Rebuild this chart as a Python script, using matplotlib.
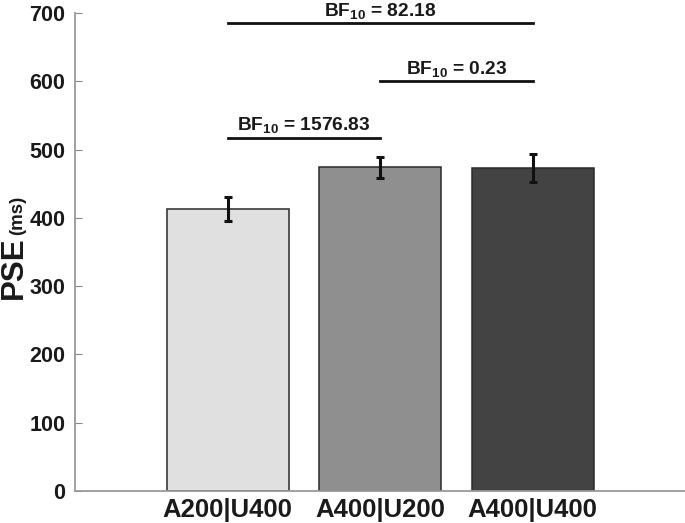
import matplotlib
matplotlib.use("Agg")
import matplotlib.pyplot as plt
import numpy as np

# ── Data ─────────────────────────────────────────────────────────────
CONDITIONS = ["A200|U400", "A400|U200", "A400|U400"]
PSE_MEAN   = [413, 474, 473]
PSE_ERR    = [18, 15, 20]
BAR_COLORS = ["#e0e0e0", "#8f8f8f", "#434343"]

# pairwise comparisons: (left bar, right bar, height, BF10)
PAIR_LEFT  = [1, 2, 1]
PAIR_RIGHT = [2, 3, 3]
PAIR_Y     = [517, 600, 685]
PAIR_BF    = ["1576.83", "0.23", "82.18"]

# ── Style ────────────────────────────────────────────────────────────
plt.rcParams["font.family"] = ["Liberation Sans", "DejaVu Sans"]
plt.rcParams["font.weight"] = "bold"
plt.rcParams["mathtext.fontset"] = "custom"
plt.rcParams["mathtext.rm"] = "Liberation Sans:bold"
plt.rcParams["mathtext.bf"] = "Liberation Sans:bold"

fig = plt.figure(figsize=(6.85, 5.23), dpi=100)
ax = fig.add_axes([0.1095, 0.0612, 0.8905, 0.9140])

x = np.arange(1, len(CONDITIONS) + 1)
ax.bar(x, PSE_MEAN, width=0.8, color=BAR_COLORS, edgecolor="#2a2a2a",
       linewidth=1.1, zorder=2)
ax.errorbar(x, PSE_MEAN, yerr=PSE_ERR, fmt="none", ecolor="#111111",
            elinewidth=2.2, capsize=3, capthick=2.2, zorder=3)

for l, r, y, bf in zip(PAIR_LEFT, PAIR_RIGHT, PAIR_Y, PAIR_BF):
    ax.plot([l, r], [y, y], color="#111111", linewidth=2, clip_on=False)
    ax.text((l + r) / 2, y + 11, r"$\mathrm{BF_{10}}$ = " + bf,
            ha="center", va="baseline", fontsize=13.8, fontweight="bold",
            color="#1a1a1a", clip_on=False)

ax.set_xlim(0, 4)
ax.set_ylim(0, 700)
ax.set_yticks(np.arange(0, 701, 100))
ax.set_xticks(x)
ax.set_xticklabels(CONDITIONS, fontsize=18.5, fontweight="bold", color="#1a1a1a")
ax.tick_params(axis="y", direction="in", length=5, color="#888888",
               labelsize=15.5, labelcolor="#1a1a1a", pad=7)
ax.tick_params(axis="x", length=0, pad=5)
for lab in ax.get_yticklabels():
    lab.set_fontweight("bold")

ax.spines[["top", "right"]].set_visible(False)
ax.spines["left"].set_color("#999999")
ax.spines["bottom"].set_color("#999999")
ax.spines["left"].set_linewidth(1.3)
ax.spines["bottom"].set_linewidth(1.3)

# y label: "PSE" large, "(ms)" smaller, sharing one baseline
fig.text(0.032, 0.4876, "PSE", rotation=90, rotation_mode="anchor",
         ha="center", va="baseline", fontsize=22.5, fontweight="bold",
         color="#1a1a1a")
fig.text(0.032, 0.589, "(ms)", rotation=90, rotation_mode="anchor",
         ha="center", va="baseline", fontsize=13.5, fontweight="bold",
         color="#1a1a1a")

fig.savefig("out.png", dpi=100, facecolor="white")
